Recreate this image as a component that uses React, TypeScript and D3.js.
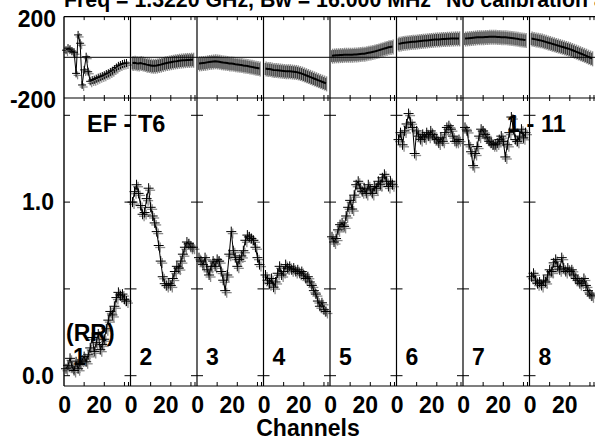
import React from 'react';
import * as d3 from 'd3';

const W = 595;
const H = 440;

const panelLabels = ['1', '2', '3', '4', '5', '6', '7', '8'];
const channels = [1, 2, 3, 4, 5, 6, 7, 8, 9, 10, 11, 12, 13, 14, 15, 16, 17, 18, 19, 20, 21, 22, 23, 24, 25, 26, 27, 28, 29, 30, 31];

// amplitude per IF panel
const amp1 = [0.04, 0.06, 0.10, 0.05, 0.03, 0.08, 0.04, 0.07, 0.09, 0.11, 0.08, 0.12, 0.16, 0.22, 0.14, 0.19, 0.24, 0.15, 0.18, 0.21, 0.27, 0.32, 0.37, 0.35, 0.40, 0.45, 0.48, 0.46, 0.47, 0.44, 0.43];
const amp2 = [1.00, 1.06, 1.10, 1.05, 0.98, 0.93, 0.94, 1.02, 1.08, 0.97, 0.92, 0.88, 0.83, 0.75, 0.66, 0.57, 0.53, 0.52, 0.53, 0.52, 0.56, 0.60, 0.63, 0.62, 0.66, 0.70, 0.74, 0.77, 0.76, 0.74, 0.74];
const amp3 = [0.68, 0.66, 0.64, 0.68, 0.61, 0.58, 0.63, 0.66, 0.63, 0.67, 0.66, 0.60, 0.55, 0.49, 0.58, 0.70, 0.83, 0.72, 0.68, 0.63, 0.67, 0.69, 0.72, 0.78, 0.81, 0.80, 0.79, 0.78, 0.74, 0.68, 0.64];
const amp4 = [0.58, 0.55, 0.53, 0.56, 0.51, 0.54, 0.59, 0.63, 0.58, 0.60, 0.64, 0.62, 0.63, 0.61, 0.62, 0.60, 0.61, 0.59, 0.60, 0.58, 0.56, 0.57, 0.54, 0.52, 0.49, 0.47, 0.43, 0.40, 0.42, 0.38, 0.37];
const amp5 = [0.80, 0.77, 0.79, 0.84, 0.87, 0.88, 0.86, 0.92, 0.97, 1.01, 0.96, 1.04, 1.10, 1.12, 1.08, 1.06, 1.08, 1.05, 1.10, 1.07, 1.05, 1.09, 1.08, 1.12, 1.10, 1.14, 1.16, 1.12, 1.09, 1.12, 1.10];
const amp6 = [1.36, 1.40, 1.33, 1.41, 1.45, 1.51, 1.46, 1.43, 1.28, 1.41, 1.38, 1.36, 1.39, 1.37, 1.40, 1.38, 1.41, 1.39, 1.37, 1.36, 1.34, 1.37, 1.35, 1.40, 1.43, 1.44, 1.42, 1.38, 1.35, 1.35, 1.36];
const amp7 = [1.43, 1.41, 1.33, 1.29, 1.21, 1.28, 1.32, 1.38, 1.42, 1.41, 1.39, 1.37, 1.35, 1.34, 1.33, 1.33, 1.34, 1.36, 1.38, 1.35, 1.26, 1.33, 1.40, 1.49, 1.42, 1.36, 1.35, 1.38, 1.42, 1.37, 1.40];
const amp8 = [0.57, 0.59, 0.55, 0.53, 0.54, 0.52, 0.55, 0.54, 0.58, 0.61, 0.60, 0.65, 0.67, 0.63, 0.61, 0.68, 0.62, 0.60, 0.62, 0.60, 0.61, 0.58, 0.56, 0.55, 0.53, 0.54, 0.56, 0.52, 0.49, 0.47, 0.46];

// phase (degrees) per IF panel
const phase1 = [35, 45, 40, 30, 25, -79, 110, 69, -136, -62, 3, -71, -118, -112, -110, -105, -100, -96, -92, -88, -82, -78, -72, -66, -58, -50, -42, -38, -33, -30, -28];
const phase2 = [-28, -27, -29, -30, -28, -31, -33, -36, -38, -40, -42, -41, -40, -38, -36, -33, -30, -28, -26, -24, -22, -20, -19, -17, -16, -15, -14, -13, -13, -12, -12];
const phase3 = [-30, -29, -28, -27, -25, -23, -22, -21, -20, -21, -22, -24, -26, -27, -28, -30, -31, -32, -34, -35, -37, -38, -40, -41, -43, -45, -47, -49, -51, -53, -55];
const phase4 = [-55, -57, -58, -60, -62, -63, -64, -65, -66, -67, -68, -68, -69, -70, -71, -72, -74, -77, -80, -84, -88, -92, -96, -100, -104, -108, -112, -116, -120, -124, -128];
const phase5 = [8, 9, 10, 10, 11, 11, 12, 12, 12, 13, 13, 14, 14, 15, 16, 17, 18, 20, 22, 24, 26, 28, 31, 34, 37, 40, 43, 46, 49, 51, 53];
const phase6 = [66, 68, 70, 72, 73, 74, 75, 76, 77, 78, 79, 80, 81, 82, 83, 84, 85, 86, 87, 88, 88, 89, 90, 90, 91, 91, 92, 92, 93, 93, 93];
const phase7 = [92, 93, 94, 95, 96, 97, 98, 98, 99, 99, 100, 100, 101, 101, 101, 101, 100, 100, 99, 99, 98, 97, 96, 95, 94, 92, 91, 89, 88, 86, 85];
const phase8 = [92, 90, 88, 86, 84, 82, 79, 76, 73, 70, 67, 64, 61, 58, 55, 52, 49, 46, 43, 40, 36, 32, 28, 24, 20, 16, 12, 8, 3, -1, -5];

const ampPanels = [amp1, amp2, amp3, amp4, amp5, amp6, amp7, amp8];
const phasePanels = [phase1, phase2, phase3, phase4, phase5, phase6, phase7, phase8];

const ampTicks = [0, 0.5, 1.0, 1.5];
const ampTickLabels = ['0.0', '1.0'];
const phaseTickLabels = [200, -200];
const chanTicks = [10, 20, 30, 32];
const chanTickLabels = [0, 20];

const titleLeft = 'Freq = 1.3220 GHz, Bw = 16.000 MHz';
const titleRight = 'No calibration applied';
const sourceLabel = 'EF - T6';
const baselineLabel = '1 - 11';
const polLabel = '(RR)';
const xTitle = 'Channels';

const FONT = '"Liberation Sans", Arial, Helvetica, sans-serif';
const GRAY = '#8a8a8a';

const App: React.FC = () => {
  const left = 64;
  const right = 596;
  const top = 16.6;
  const mid = 98;
  const bottom = 386;

  const panelX = d3.scaleLinear().domain([0, 8]).range([left, right]);
  const ampY = d3.scaleLinear().domain([0, 1.5]).range([375.7, 115.3]);
  const phY = d3.scaleLinear().domain([-200, 200]).range([mid, top]);

  const fs = 23;

  return (
    <svg width={W} height={H} style={{ position: 'absolute', left: 0, top: 0, background: '#fff' }}
      fontFamily={FONT} fontWeight="bold">
      <rect x={0} y={0} width={W} height={H} fill="#fff" />

      {/* title, cut by the top edge */}
      <text x={64} y={6.5} fontSize={21.3}>{titleLeft}</text>
      <text x={446} y={6.5} fontSize={21.3}>{titleRight}</text>

      {panelLabels.map((lab, i) => {
        const x0 = panelX(i);
        const x1 = panelX(i + 1);
        const xs = d3.scaleLinear().domain([0, 33]).range([x0, x1]);
        const amps = ampPanels[i];
        const phs = phasePanels[i];
        const ampLine = d3.line<number>().x((_, k) => xs(channels[k])).y(d => ampY(d));
        const phLine = d3.line<number>().x((_, k) => xs(channels[k])).y(d => phY(d));
        return (
          <g key={lab}>
            {/* amplitude points */}
            {amps.map((v, k) => {
              const x = xs(channels[k]);
              const y = ampY(v);
              return (
                <g key={'ag' + k} stroke={GRAY} strokeWidth={1.3}>
                  <line x1={x - 3.5} x2={x + 6.5} y1={y + 2} y2={y + 2} />
                  <line x1={x + 1.5} x2={x + 1.5} y1={y - 3} y2={y + 7} />
                </g>
              );
            })}
            <path d={ampLine(amps) || ''} fill="none" stroke="#000" strokeWidth={1} />
            {amps.map((v, k) => {
              const x = xs(channels[k]);
              const y = ampY(v);
              return (
                <g key={'ab' + k} stroke="#000" strokeWidth={1}>
                  <line x1={x - 5} x2={x + 5} y1={y} y2={y} />
                  <line x1={x} x2={x} y1={y - 5} y2={y + 5} />
                </g>
              );
            })}

            {/* phase points */}
            {i === 0
              ? phs.map((v, k) => {
                  const x = xs(channels[k]);
                  const y = phY(v);
                  return (
                    <g key={'p' + k}>
                      <g stroke={GRAY} strokeWidth={1.2}>
                        <line x1={x - 2.5} x2={x + 5.5} y1={y + 2} y2={y + 2} />
                        <line x1={x + 1.5} x2={x + 1.5} y1={y - 2} y2={y + 6} />
                      </g>
                      <g stroke="#000" strokeWidth={1}>
                        <line x1={x - 4} x2={x + 4} y1={y} y2={y} />
                        <line x1={x} x2={x} y1={y - 4} y2={y + 4} />
                      </g>
                    </g>
                  );
                })
              : phs.map((v, k) => {
                  const x = xs(channels[k]);
                  const y = phY(v);
                  return (
                    <g key={'p' + k}>
                      <line x1={x + 0.6} x2={x + 0.6} y1={y - 7} y2={y + 8} stroke={GRAY} strokeWidth={1.4} />
                      <line x1={x - 0.3} x2={x - 0.3} y1={y - 5.5} y2={y + 6.5} stroke="#222" strokeWidth={0.9} />
                    </g>
                  );
                })}
            <path d={phLine(phs) || ''} fill="none" stroke="#000" strokeWidth={i === 0 ? 1 : 2} />

            {/* channel ticks */}
            {chanTicks.map(t => (
              <g key={'t' + t} stroke="#000" strokeWidth={1}>
                <line x1={xs(t)} x2={xs(t)} y1={top} y2={top + 3.5} />
                <line x1={xs(t)} x2={xs(t)} y1={mid - 3} y2={mid + 3} />
                <line x1={xs(t)} x2={xs(t)} y1={bottom} y2={bottom - 4} />
              </g>
            ))}
            {chanTickLabels.map(t => (
              <text key={'cl' + t} x={xs(t) + (t === 0 ? 0.7 : -5)} y={413.3} fontSize={fs} textAnchor="middle">{t}</text>
            ))}

            {/* amplitude ticks on each panel edge */}
            {ampTicks.map(t => (
              <line key={'yt' + t} x1={i === 0 ? x0 : x0 - 6} x2={x0 + 6} y1={ampY(t)} y2={ampY(t)} stroke="#000" strokeWidth={1} />
            ))}

            {/* panel divider */}
            <line x1={x0} x2={x0} y1={top} y2={bottom} stroke="#000" strokeWidth={i === 0 ? 1.4 : 1.2} />

            <text x={x0 + 9} y={365} fontSize={fs}>{lab}</text>
          </g>
        );
      })}

      {/* frame */}
      <line x1={left} x2={right} y1={top} y2={top} stroke="#000" strokeWidth={1.2} />
      <line x1={left} x2={right} y1={mid} y2={mid} stroke="#000" strokeWidth={1.2} />
      <line x1={left} x2={right} y1={bottom} y2={bottom} stroke="#000" strokeWidth={1.2} />
      <line x1={left} x2={right} y1={phY(0)} y2={phY(0)} stroke="#000" strokeWidth={1} />

      {/* y labels */}
      {phaseTickLabels.map(t => (
        <text key={'pl' + t} x={56} y={phY(t) + 10} fontSize={fs} textAnchor="end">{t}</text>
      ))}
      {ampTickLabels.map(t => (
        <text key={'al' + t} x={54} y={ampY(+t) + 8} fontSize={fs} textAnchor="end">{t}</text>
      ))}

      <text x={87} y={132} fontSize={23.5}>{sourceLabel}</text>
      <text x={507} y={132} fontSize={23.5}>{baselineLabel}</text>
      <text x={66} y={341} fontSize={fs}>{polLabel}</text>
      <text x={308} y={436} fontSize={fs} textAnchor="middle">{xTitle}</text>
    </svg>
  );
};

export default App;
